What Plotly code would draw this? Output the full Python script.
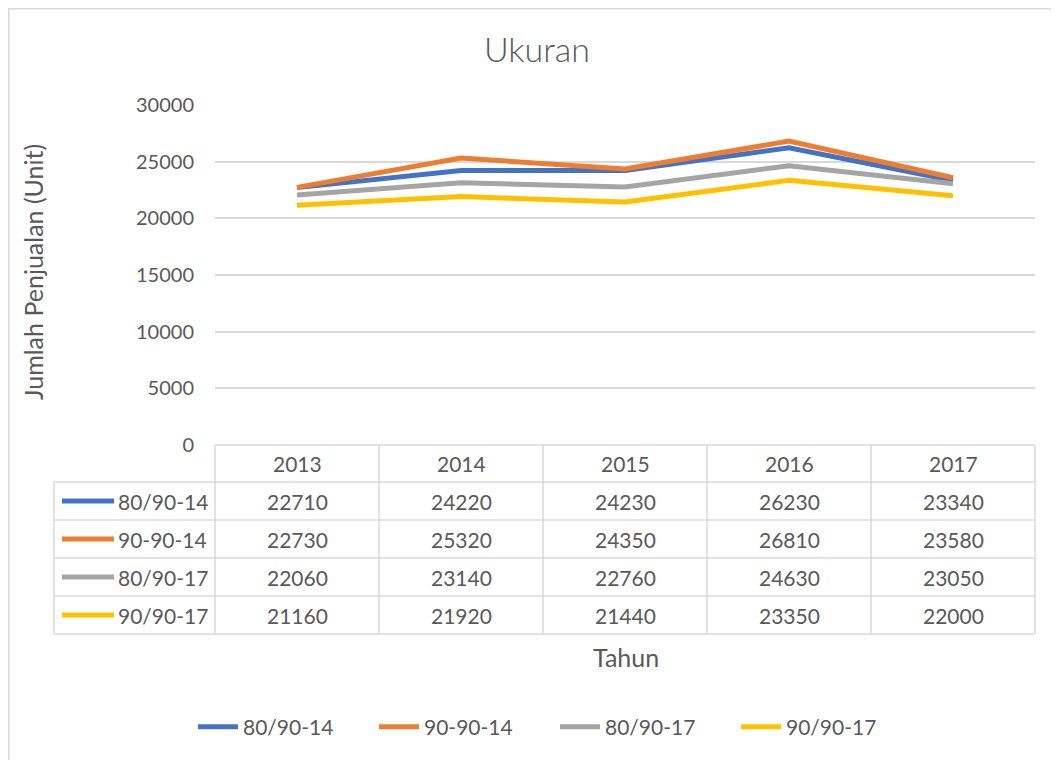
import plotly.graph_objects as go

years = ["2013", "2014", "2015", "2016", "2017"]
series_names = ["80/90-14", "90-90-14", "80/90-17", "90/90-17"]
s_80_90_14 = [22710, 24220, 24230, 26230, 23340]
s_90_90_14 = [22730, 25320, 24350, 26810, 23580]
s_80_90_17 = [22060, 23140, 22760, 24630, 23050]
s_90_90_17 = [21160, 21920, 21440, 23350, 22000]
all_series = [s_80_90_14, s_90_90_14, s_80_90_17, s_90_90_17]
colors = ["#4472C4", "#ED7D31", "#A5A5A5", "#FFC000"]

FONT = "Lato"
TXT = "#595959"
GRID = "#D9D9D9"

OFF = 8  # page body margin
W, H = 1059, 760
# plot area in page pixels
PL, PR, PT, PB = 215, 1035, 105, 445


def xp(px):
    return (px - PL) / (PR - PL)


def yp(py):
    return (PB - py) / (PB - PT)


fig = go.Figure()
for name, vals, c in zip(series_names, all_series, colors):
    fig.add_trace(go.Scatter(
        x=list(range(len(years))), y=vals, name=name, mode="lines",
        line=dict(color=c, width=5),
    ))

shapes = []
annotations = []

# outer chart border (left/top edges at the figure edge)
shapes.append(dict(type="rect", xref="paper", yref="paper",
                   x0=xp(OFF + 0.8), x1=xp(1200), y0=yp(OFF + 0.8), y1=yp(900),
                   line=dict(color=GRID, width=1.5)))

n = len(years)
row_tops = [445, 482, 520, 558, 596, 634]
col_edges = [(i / n) for i in range(n + 1)]
label_left = 54

shapes.append(dict(type="line", xref="paper", yref="paper",
                   x0=0, x1=1, y0=yp(row_tops[0]), y1=yp(row_tops[0]),
                   line=dict(color=GRID, width=1.5)))
for ry in row_tops[1:]:
    shapes.append(dict(type="line", xref="paper", yref="paper",
                       x0=xp(label_left), x1=1, y0=yp(ry), y1=yp(ry),
                       line=dict(color=GRID, width=1.5)))
for cx in col_edges:
    shapes.append(dict(type="line", xref="paper", yref="paper",
                       x0=cx, x1=cx, y0=yp(row_tops[0]), y1=yp(row_tops[-1]),
                       line=dict(color=GRID, width=1.5)))
shapes.append(dict(type="line", xref="paper", yref="paper",
                   x0=xp(label_left), x1=xp(label_left),
                   y0=yp(row_tops[1]), y1=yp(row_tops[-1]),
                   line=dict(color=GRID, width=1.5)))

TF = 21
hy = (row_tops[0] + row_tops[1]) / 2
for i, yr in enumerate(years):
    annotations.append(dict(xref="paper", yref="paper", x=(i + 0.5) / n, y=yp(hy),
                            text=yr, showarrow=False, xanchor="center", yanchor="middle",
                            font=dict(family=FONT, size=TF, color=TXT)))
for r, (name, vals, c) in enumerate(zip(series_names, all_series, colors)):
    cy = (row_tops[r + 1] + row_tops[r + 2]) / 2
    shapes.append(dict(type="line", xref="paper", yref="paper",
                       x0=xp(62), x1=xp(114), y0=yp(cy), y1=yp(cy),
                       line=dict(color=c, width=5)))
    annotations.append(dict(xref="paper", yref="paper", x=xp(116), y=yp(cy),
                            text=name, showarrow=False, xanchor="left", yanchor="middle",
                            font=dict(family=FONT, size=TF, color=TXT)))
    for i, v in enumerate(vals):
        annotations.append(dict(xref="paper", yref="paper", x=(i + 0.5) / n, y=yp(cy),
                                text=str(v), showarrow=False, xanchor="center", yanchor="middle",
                                font=dict(family=FONT, size=TF, color=TXT)))

annotations.append(dict(xref="paper", yref="paper", x=xp(626), y=yp(657),
                        text="Tahun", showarrow=False, xanchor="center", yanchor="middle",
                        font=dict(family=FONT, size=25, color=TXT)))
annotations.append(dict(xref="paper", yref="paper", x=xp(33), y=yp(272),
                        text="Jumlah Penjualan (Unit)", showarrow=False, textangle=-90,
                        xanchor="center", yanchor="middle",
                        font=dict(family=FONT, size=25, color=TXT)))

fig.update_layout(
    width=W, height=H,
    margin=dict(l=PL - OFF, r=W - (PR - OFF), t=PT - OFF, b=H - (PB - OFF)),
    paper_bgcolor="white", plot_bgcolor="white",
    title=dict(text="Ukuran", x=(537 - OFF) / W, xanchor="center",
               y=1 - (50 - OFF) / H, yanchor="middle",
               font=dict(family=FONT, size=34, color=TXT, weight=300)),
    xaxis=dict(range=[-0.5, n - 0.5], showticklabels=False, showgrid=False,
               zeroline=False, showline=False, fixedrange=True),
    yaxis=dict(range=[0, 30000], dtick=5000, showgrid=True, gridcolor=GRID, gridwidth=1.5,
               zeroline=False, showline=False, tickformat="d",
               tickfont=dict(family=FONT, size=20, color=TXT), ticklabelstandoff=20),
    legend=dict(orientation="h", x=xp(555), xanchor="center", y=yp(727), yanchor="middle",
                font=dict(family=FONT, size=21, color=TXT), entrywidth=126,
                itemwidth=40),
    shapes=shapes,
    annotations=annotations,
    showlegend=True,
)

fig.write_html("out.html")
